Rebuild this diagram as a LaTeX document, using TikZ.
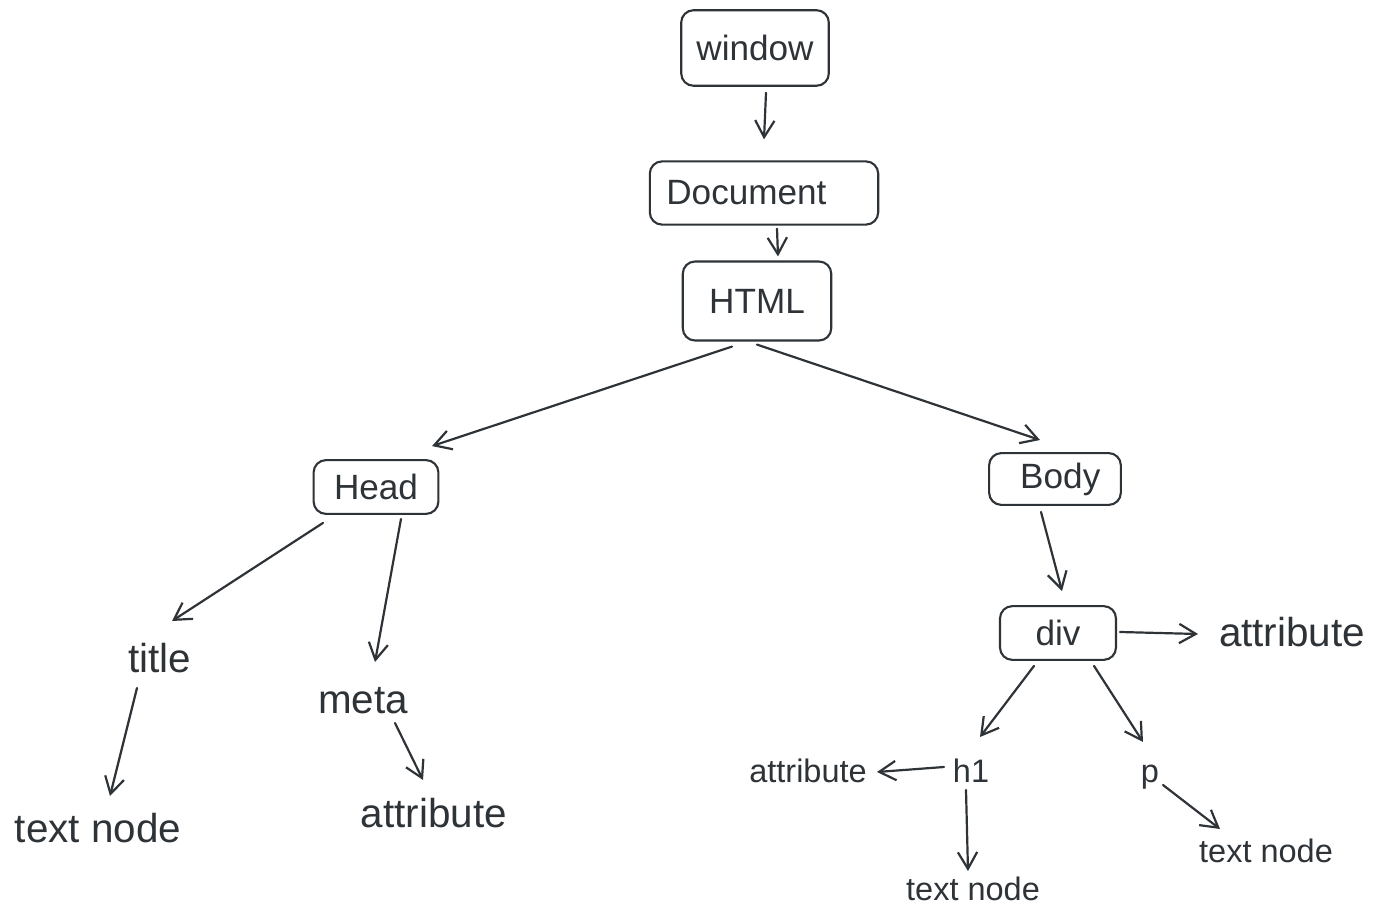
\documentclass[tikz,border=0pt]{standalone}
\usepackage{fontspec}
\setmainfont{Liberation Sans}
\usepackage{xcolor}
\usetikzlibrary{positioning,calc,arrows.meta}
\definecolor{ink}{HTML}{2E3338}
\begin{document}
\begin{tikzpicture}[x=0.02cm, y=-0.02cm,
        BoxStyle/.style = { rectangle, rounded corners=7pt, draw = ink,
          line width = 1.2pt, text = ink, inner sep = 0pt,
          font = \fontsize{20}{24}\selectfont },
        TextStyle/.style = { inner sep = 0pt, text = ink,
          font = \fontsize{23}{27}\selectfont },
        SmallStyle/.style = { inner sep = 0pt, text = ink,
          font = \fontsize{18.5}{22}\selectfont },
        EdgeStyle/.style = { draw = ink, line width = 1.25pt, line cap = round,
          -{Straight Barb[length=9.5pt, width=11pt, line width=1.25pt]} }
      ]
      \useasboundingbox (0,0) rectangle (1386,918);
      \node[BoxStyle, minimum width=84pt, minimum height=43pt] (window) at (755,48) {window};
      \node[BoxStyle, minimum width=130pt, minimum height=36pt] (doc) at (764,193) {Document\kern20pt};
      \node[BoxStyle, minimum width=84.5pt, minimum height=45pt] (html) at (757,301) {HTML};
      \node[BoxStyle, minimum width=71pt, minimum height=30.6pt] (head) at (376,487) {Head};
      \node[BoxStyle, minimum width=75pt, minimum height=29.5pt] (body) at (1055,479) {\kern6pt Body};
      \node[BoxStyle, minimum width=66pt, minimum height=30.6pt] (div) at (1058,633) {div};
      \node[TextStyle] (title) at (160,658) {title};
      \node[TextStyle] (meta) at (363,701) {meta};
      \node[TextStyle] (tnA) at (98,828) {text node};
      \node[TextStyle] (attrA) at (434,813) {attribute};
      \node[TextStyle] (attrB) at (1292,632) {attribute};
      \node[SmallStyle] (h1) at (971,771) {h1};
      \node[SmallStyle] (p) at (1150,777) {p};
      \node[SmallStyle] (attrC) at (808,771) {attribute};
      \node[SmallStyle] (tnB) at (973,889) {text node};
      \node[SmallStyle] (tnC) at (1266,851) {text node};
      \draw[EdgeStyle] ($(window.south)+(11,6)$) -- ($(doc.north)+(0,-21)$);
      \draw[EdgeStyle] ($(doc.south)+(13,3)$) -- ($(html.north)+(21,-4)$);
      \draw[EdgeStyle] ($(html.south)+(-25,5)$) -- ($(head.north)+(56,-13)$);
      \draw[EdgeStyle] ($(html.south)+(0,3)$) -- ($(body.north)+(-15,-12)$);
      \draw[EdgeStyle] ($(head.south)+(-53,8)$) -- ($(title)+(12,-37)$);
      \draw[EdgeStyle] ($(head.south)+(25,4)$) -- ($(meta)+(12,-39)$);
      \draw[EdgeStyle] ($(title)+(-23,30)$) -- ($(tnA)+(12,-32)$);
      \draw[EdgeStyle] ($(meta)+(32,22)$) -- ($(attrA)+(-11,-33)$);
      \draw[EdgeStyle] ($(body.south)+(-14,6)$) -- ($(div.north)+(4,-14)$);
      \draw[EdgeStyle] ($(div.east)+(3,-1)$) -- ($(attrB)+(-94,2)$);
      \draw[EdgeStyle] ($(div.south)+(-24,5)$) -- ($(h1)+(9,-34)$);
      \draw[EdgeStyle] ($(div.south)+(36,5)$) -- ($(p)+(-7,-35)$);
      \draw[EdgeStyle] ($(h1)+(-27,-4)$) -- ($(attrC)+(69,1)$);
      \draw[EdgeStyle] ($(h1)+(-5,19)$) -- ($(tnB)+(-5,-18)$);
      \draw[EdgeStyle] ($(p)+(13,8)$) -- ($(tnC)+(-46,-22)$);
    \end{tikzpicture}
\end{document}
